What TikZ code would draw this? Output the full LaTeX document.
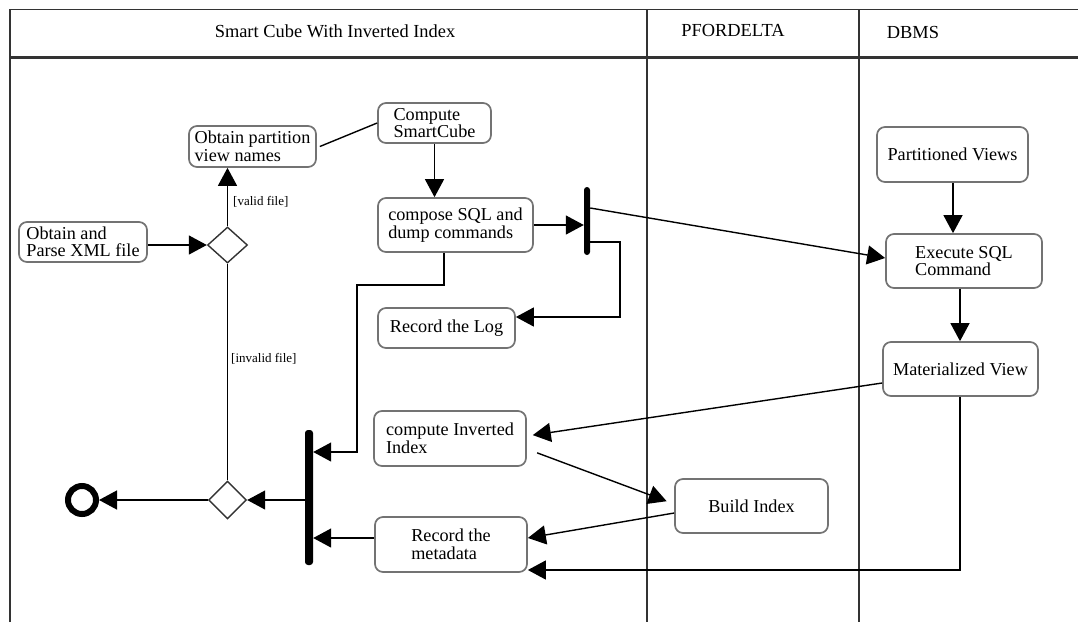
\documentclass[tikz,border=0pt]{standalone}
\usepackage{fontspec}
\setmainfont{Liberation Serif}
\usetikzlibrary{arrows.meta,shapes.geometric}
\definecolor{boxline}{gray}{0.45}
\definecolor{frameline}{gray}{0.2}
\begin{document}
\begin{tikzpicture}[x=1pt,y=-1pt,
  act/.style={draw=boxline, line width=1.7pt, rounded corners=8pt, align=left,
    inner sep=0pt, fill=white, font=\fontsize{18.2}{17.5}\selectfont},
  decision/.style={diamond, draw=frameline, line width=1.4pt, inner sep=0pt, fill=white},
  syncbar/.style={fill=black, inner sep=0pt, rounded corners=3pt},
  flow/.style={line width=1.4pt, -{Triangle[length=18pt,width=19pt]}},
  link/.style={line width=1.4pt},
  guard/.style={font=\fontsize{13}{13}\selectfont, anchor=west, inner sep=0pt},
  lane/.style={draw=frameline, line width=1.3pt},
  lanetitle/.style={font=\fontsize{18.4}{18.4}\selectfont, inner sep=0pt}]

\useasboundingbox (0,0) rectangle (1078,622);

% swimlane frame
\draw[lane] (10,622) -- (10,9.5) -- (1078,9.5);
\draw[draw=frameline, line width=2.4pt] (10,57.5) -- (1078,57.5);
\draw[lane] (647,9.5) -- (647,622);
\draw[lane] (859,9.5) -- (859,622);

\node[lanetitle] (t1) at (335,31) {Smart Cube With Inverted Index};
\node[lanetitle] (t2) at (733,30) {PFORDELTA};
\node[lanetitle] (t3) at (913,32) {DBMS};

% activities
\node[act, minimum width=128pt, minimum height=40pt] (xml) at (83,242) {Obtain and\\Parse XML file};
\node[act, minimum width=127pt, minimum height=41pt] (partn) at (252.5,146.5) {Obtain partition\\view names};
\node[act, minimum width=113pt, minimum height=40pt] (smart) at (434.5,123) {Compute\\SmartCube};
\node[act, minimum width=155pt, minimum height=54pt] (compose) at (455.5,225) {compose SQL and\\dump commands};
\node[act, minimum width=137pt, minimum height=40pt] (log) at (446.5,328) {Record the Log};
\node[act, minimum width=151pt, minimum height=55pt] (pviews) at (952.5,154.5) {Partitioned Views};
\node[act, minimum width=156pt, minimum height=54pt] (exec) at (964,261) {Execute SQL\\Command};
\node[act, minimum width=155pt, minimum height=54pt] (mat) at (960.5,369) {Materialized View};
\node[act, minimum width=152pt, minimum height=55pt] (inv) at (450,438.5) {compute Inverted\\Index};
\node[act, minimum width=153pt, minimum height=54pt] (build) at (751.5,506) {Build Index};
\node[act, minimum width=152pt, minimum height=55pt] (meta) at (451,544.5) {Record the\\metadata};

% control nodes
\node[decision, minimum width=40pt, minimum height=36pt] (d1) at (227.5,245) {};
\node[decision, minimum width=38pt, minimum height=38pt] (d2) at (227.5,500) {};
\node[syncbar, minimum width=6pt, minimum height=68pt] (bar1) at (587,221) {};
\node[syncbar, minimum width=8pt, minimum height=135pt] (bar2) at (309,497.5) {};
\node[circle, draw=black, line width=6pt, minimum size=28pt, inner sep=0pt] (fin) at (82,500) {};

% connectors
\draw[flow] (xml.east |- d1.west) -- (d1.west);
\draw[flow] (d1.north) -- (d1.north |- partn.south);
\node[guard] (g1) at (233,202) {[valid file]};
\draw[link] ([xshift=3pt]partn.east) -- (smart.west);
\draw[flow] (smart.south) -- (smart.south |- compose.north);
\draw[flow] (compose.east) -- (bar1.west |- compose.east);
\draw[flow] (bar1.east |- 0,208) -- (exec.west |- 0,258);
\draw[flow] (bar1.east |- 0,242) -| (620,317) -- (log.east |- 0,317);
\draw[flow] (compose.south -| 444,0) -- (444,285) -| (357,452) -- (bar2.east |- 0,452);
\draw[link] (d1.south) -- (d2.north);
\node[guard] (g2) at (231,359) {[invalid file]};
\draw[flow] (bar2.west |- d2.east) -- (d2.east);
\draw[flow] (d2.west) -- (fin.east);
\draw[flow] (meta.west |- 0,538) -- (bar2.east |- 0,538);
\draw[flow] (pviews.south -| 953,0) -- (exec.north -| 953,0);
\draw[flow] (exec.south -| 960,0) -- (mat.north -| 960,0);
\draw[flow, shorten >=6pt] (mat.west |- 0,383) -- (inv.east |- 0,436);
\draw[flow, shorten <=11pt, shorten >=8pt] (inv.east |- 0,449) -- (build.west |- 0,504);
\draw[flow] (build.west |- 0,513) -- (meta.east |- 0,538);
\draw[flow] (mat.south -| 960,0) -- (960,570) -- (meta.east |- 0,570);

\end{tikzpicture}
\end{document}
